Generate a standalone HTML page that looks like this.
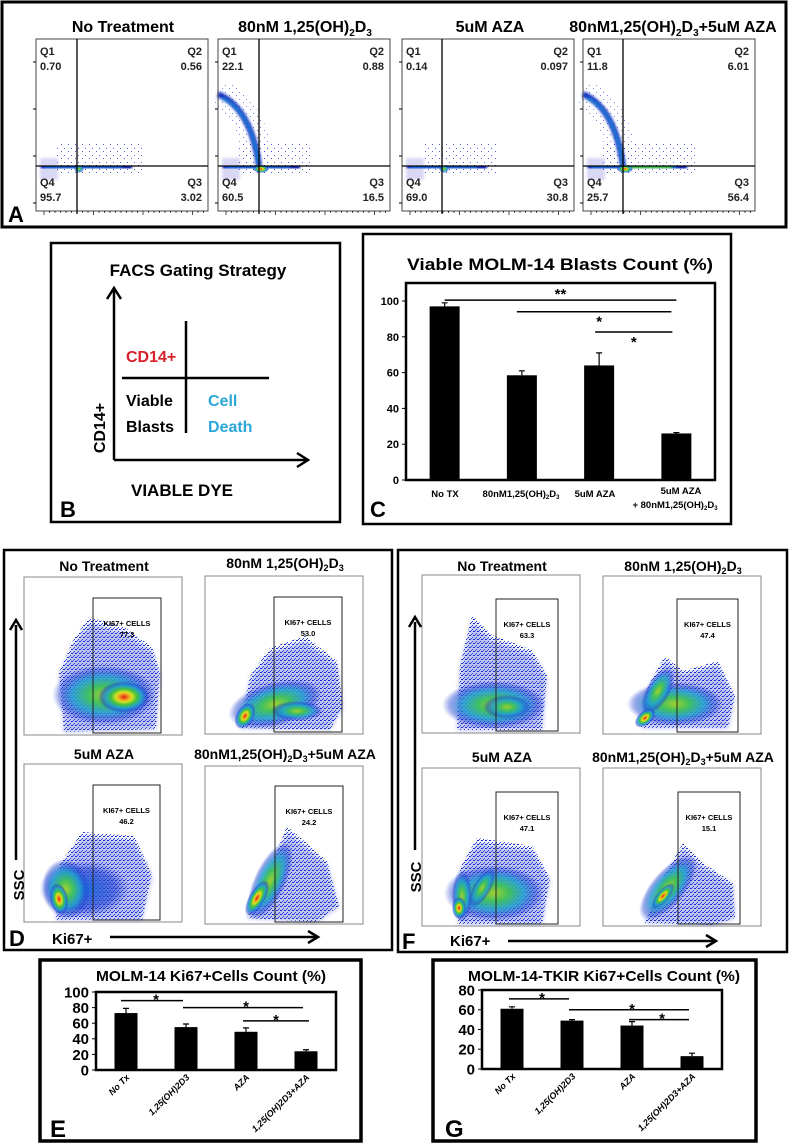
<!DOCTYPE html>
<html><head><meta charset="utf-8"><style>
html,body{margin:0;padding:0;background:#fff;}
svg{display:block;font-family:"Liberation Sans",Arial,sans-serif;}
.b{font-weight:bold;}
</style></head><body>
<svg id="fig" width="790" height="1144" viewBox="0 0 790 1144" xmlns="http://www.w3.org/2000/svg">
<defs>
<filter id="bl" x="-20%" y="-20%" width="140%" height="140%"><feGaussianBlur stdDeviation="1.2"/></filter>
<filter id="bl2" x="-30%" y="-30%" width="160%" height="160%"><feGaussianBlur stdDeviation="2.5"/></filter>
<pattern id="dots" width="4" height="4" patternUnits="userSpaceOnUse"><rect x="0" y="0" width="1" height="1" fill="#1a2bd0"/><rect x="2" y="2" width="1" height="1" fill="#2240e0"/><rect x="3" y="0" width="1" height="1" fill="#1020b0"/><rect x="1" y="3" width="1" height="1" fill="#3050e0"/></pattern>
<pattern id="dots2" width="7" height="7" patternUnits="userSpaceOnUse"><rect x="1" y="1" width="1" height="1" fill="#2233cc"/><rect x="5" y="4" width="1" height="1" fill="#2233cc"/></pattern>
<radialGradient id="heat"><stop offset="0" stop-color="#e02010"/><stop offset="0.15" stop-color="#f08020"/><stop offset="0.3" stop-color="#e0e020"/><stop offset="0.5" stop-color="#40c040"/><stop offset="0.7" stop-color="#20a0d0" stop-opacity="0.9"/><stop offset="0.88" stop-color="#2040d0" stop-opacity="0.5"/><stop offset="1" stop-color="#2040d0" stop-opacity="0"/></radialGradient>
<radialGradient id="heatG"><stop offset="0" stop-color="#a0d030"/><stop offset="0.3" stop-color="#40c060"/><stop offset="0.6" stop-color="#20a0d0" stop-opacity="0.85"/><stop offset="0.85" stop-color="#2040d0" stop-opacity="0.45"/><stop offset="1" stop-color="#2040d0" stop-opacity="0"/></radialGradient>
<radialGradient id="heatB"><stop offset="0" stop-color="#2070e0"/><stop offset="0.7" stop-color="#2040d0" stop-opacity="0.6"/><stop offset="1" stop-color="#2040d0" stop-opacity="0"/></radialGradient>
</defs>

<!-- Panel A -->
<g>
<rect x="2" y="2" width="784" height="225" fill="none" stroke="#000" stroke-width="3"/>
<text x="123" y="32" text-anchor="middle" class="b" font-size="16">No Treatment</text>
<text x="305" y="32" text-anchor="middle" class="b" font-size="16">80nM 1,25(OH)<tspan font-size="10" dy="4">2</tspan><tspan dy="-4">D</tspan><tspan font-size="10" dy="4">3</tspan></text>
<text x="490" y="32" text-anchor="middle" class="b" font-size="16">5uM AZA</text>
<text x="673" y="32" text-anchor="middle" class="b" font-size="16">80nM1,25(OH)<tspan font-size="10" dy="4">2</tspan><tspan dy="-4">D</tspan><tspan font-size="10" dy="4">3</tspan><tspan dy="-4">+5uM AZA</tspan></text>
<g id="aplots"></g>
<text x="8" y="222" class="b" font-size="22">A</text>
</g>

<!-- Panel B -->
<g>
<rect x="51" y="243" width="289" height="279" fill="none" stroke="#000" stroke-width="2.5"/>
<text x="198" y="276" text-anchor="middle" class="b" font-size="17">FACS Gating Strategy</text>
<line x1="114" y1="460" x2="114" y2="290" stroke="#000" stroke-width="2.5"/>
<polyline points="107,299 114,288 121,299" fill="none" stroke="#000" stroke-width="2.5"/>
<line x1="114" y1="460" x2="306" y2="460" stroke="#000" stroke-width="2.5"/>
<polyline points="297,453 308,460 297,467" fill="none" stroke="#000" stroke-width="2.5"/>
<line x1="186" y1="321" x2="186" y2="433" stroke="#000" stroke-width="2.5"/>
<line x1="122" y1="378" x2="269" y2="378" stroke="#000" stroke-width="2.5"/>
<text x="126" y="362" class="b" font-size="16" fill="#d8202a">CD14+</text>
<text x="126" y="406" class="b" font-size="16">Viable</text>
<text x="126" y="432" class="b" font-size="16">Blasts</text>
<text x="208" y="406" class="b" font-size="16" fill="#2aa7d8">Cell</text>
<text x="208" y="432" class="b" font-size="16" fill="#2aa7d8">Death</text>
<text transform="translate(105,428) rotate(-90)" text-anchor="middle" class="b" font-size="16">CD14+</text>
<text x="182" y="496" text-anchor="middle" class="b" font-size="17">VIABLE DYE</text>
<text x="60" y="517" class="b" font-size="22">B</text>
</g>

<!-- Panel C -->
<g>
<rect x="363" y="234" width="368" height="290" fill="none" stroke="#000" stroke-width="2.5"/>
<text x="560" y="270" text-anchor="middle" class="b" font-size="17" textLength="306" lengthAdjust="spacingAndGlyphs">Viable MOLM-14 Blasts Count  (%)</text>
<g id="chartC"></g>
<text x="445" y="497" text-anchor="middle" class="b" font-size="9.5">No TX</text>
<text x="521" y="497" text-anchor="middle" class="b" font-size="9.5">80nM1,25(OH)<tspan font-size="6" dy="2">2</tspan><tspan dy="-2">D</tspan><tspan font-size="6" dy="2">3</tspan></text>
<text x="595" y="497" text-anchor="middle" class="b" font-size="9.5">5uM AZA</text>
<text x="681" y="494" text-anchor="middle" class="b" font-size="9.5">5uM AZA</text>
<text x="675" y="508" text-anchor="middle" class="b" font-size="9.5">+ 80nM1,25(OH)<tspan font-size="6" dy="2">2</tspan><tspan dy="-2">D</tspan><tspan font-size="6" dy="2">3</tspan></text>
<text x="370" y="517" class="b" font-size="22">C</text>
</g>

<!-- Panel D -->
<g>
<rect x="4" y="550" width="388" height="400" fill="none" stroke="#000" stroke-width="2.5"/>
<g id="dplots"></g>
<line x1="16" y1="860" x2="16" y2="625" stroke="#000" stroke-width="2.5"/>
<polyline points="10,630 16,620 22,630" fill="none" stroke="#000" stroke-width="2.5"/>
<text transform="translate(24,885) rotate(-90)" text-anchor="middle" class="b" font-size="15">SSC</text>
<text x="52" y="944" class="b" font-size="15">Ki67+</text>
<line x1="110" y1="937" x2="316" y2="937" stroke="#000" stroke-width="2.5"/>
<polyline points="308,931 318,937 308,943" fill="none" stroke="#000" stroke-width="2.5"/>
<text x="9" y="946" class="b" font-size="22">D</text>
</g>

<!-- Panel F -->
<g>
<rect x="398" y="550" width="389" height="402" fill="none" stroke="#000" stroke-width="2.5"/>
<g id="fplots"></g>
<line x1="415" y1="850" x2="415" y2="622" stroke="#000" stroke-width="2.5"/>
<polyline points="409,627 415,617 421,627" fill="none" stroke="#000" stroke-width="2.5"/>
<text transform="translate(421,877) rotate(-90)" text-anchor="middle" class="b" font-size="15">SSC</text>
<text x="450" y="946" class="b" font-size="15">Ki67+</text>
<line x1="508" y1="941" x2="714" y2="941" stroke="#000" stroke-width="2.5"/>
<polyline points="706,935 716,941 706,947" fill="none" stroke="#000" stroke-width="2.5"/>
<text x="402" y="949" class="b" font-size="22">F</text>
</g>

<!-- Panel E -->
<g>
<rect x="40" y="960" width="321" height="181" fill="none" stroke="#000" stroke-width="3.5"/>
<text x="211" y="981" text-anchor="middle" class="b" font-size="15" textLength="230" lengthAdjust="spacingAndGlyphs">MOLM-14 Ki67+Cells Count (%)</text>
<g id="chartE"></g>
<text x="50" y="1137" class="b" font-size="24">E</text>
</g>

<!-- Panel G -->
<g>
<rect x="433" y="960" width="323" height="181" fill="none" stroke="#000" stroke-width="3.5"/>
<text x="604" y="981" text-anchor="middle" class="b" font-size="15" textLength="272" lengthAdjust="spacingAndGlyphs">MOLM-14-TKIR Ki67+Cells Count (%)</text>
<g id="chartG"></g>
<text x="445" y="1137" class="b" font-size="24">G</text>
</g>
</svg>

<script>
// ---------- Bar chart data ----------
const cCategories = ["No TX", "80nM1,25(OH)2D3", "5uM AZA", "5uM AZA + 80nM1,25(OH)2D3"];
const cValues = [97, 58.5, 64, 26];
const cErrors = [2, 2.5, 7, 0.5];
const cTicks = [0, 20, 40, 60, 80, 100];

const eCategories = ["No Tx", "1,25(OH)2D3", "AZA", "1,25(OH)2D3+AZA"];
const eValues = [73, 55, 49, 24];
const eErrors = [6, 4, 5, 2];
const eTicks = [0, 20, 40, 60, 80, 100];

const gCategories = ["No Tx", "1,25(OH)2D3", "AZA", "1,25(OH)2D3+AZA"];
const gValues = [61, 49, 44, 13];
const gErrors = [2, 1, 4, 3];
const gTicks = [0, 20, 40, 60, 80];

const NS = "http://www.w3.org/2000/svg";
function mk(tag, attrs, parent) {
  const el = document.createElementNS(NS, tag);
  for (const k in attrs) el.setAttribute(k, attrs[k]);
  if (parent) parent.appendChild(el);
  return el;
}

function barChart(opt) {
  const g = document.getElementById(opt.id);
  const n = opt.values.length;
  const step = (opt.x1 - opt.x0) / n;
  const xs = i => opt.x0 + step * (i + 0.5);
  const ys = v => opt.y0 - (v - opt.tmin) / (opt.tmax - opt.tmin) * (opt.y0 - opt.yTop);
  const fr = mk("rect", {x: opt.x0, y: opt.frameTop, width: opt.x1 - opt.x0, height: opt.y0 - opt.frameTop, fill: "none", stroke: "#000", "stroke-width": opt.fw}, g);
  
  
  opt.ticks.forEach(t => {
    const y = ys(t);
    mk("line", {x1: opt.x0 - 4, x2: opt.x0, y1: y, y2: y, stroke: "#000", "stroke-width": 1}, g);
    const tx = mk("text", {x: opt.x0 - 7, y: y + opt.tfs * 0.36, "text-anchor": "end", "font-size": opt.tfs, "font-weight": "bold"}, g);
    tx.textContent = t;
    
    
  });
  opt.values.forEach((v, i) => {
    const cx = xs(i);
    const bar = mk("rect", {x: cx - opt.bw / 2, y: ys(v), width: opt.bw, height: opt.y0 - ys(v), fill: "#000"}, g);
    
    
    const ye = ys(v + opt.errors[i]);
    const eb = mk("path", {d: `M${cx},${ys(v)}V${ye}M${cx - 3},${ye}H${cx + 3}`, stroke: "#000", "stroke-width": 1.2, fill: "none"}, g);
    
    
    if (opt.rot) {
      const t = mk("text", {transform: `translate(${cx + 4},${opt.y0 + 8}) rotate(-45)`, "text-anchor": "end", "font-size": 9, "font-weight": "bold", "font-style": "italic"}, g);
      t.textContent = opt.cats[i];
      
      
    }
  });
  opt.sig.forEach(s => {
    const y = ys(s[2]);
    const l = mk("line", {x1: xs(s[0]) + s[4], x2: xs(s[1]) + s[5], y1: y, y2: y, stroke: "#000", "stroke-width": 1.5}, g);
    
    
    const st = mk("text", {x: (xs(s[0]) + xs(s[1])) / 2 + s[6], y: y + s[7], "text-anchor": "middle", "font-size": 15, "font-weight": "bold"}, g);
    st.textContent = s[3];
    
    
  });
}

barChart({id: "chartC", prefix: "c", values: cValues, errors: cErrors, ticks: cTicks, cats: cCategories,
  x0: 406, x1: 715, y0: 480, yTop: 301, tmin: 0, tmax: 100, frameTop: 283, bw: 30, tfs: 11, fw: 2.5, rot: false,
  sig: [[0, 3, 100.5, "**", 0, 0, 0, -1], [1, 3, 94, "*", -5, -5, 0, 15], [2, 3, 82.7, "*", -4, -4, -4, 15]]});
barChart({id: "chartE", prefix: "e", values: eValues, errors: eErrors, ticks: eTicks, cats: eCategories,
  x0: 96, x1: 336, y0: 1070, yTop: 992, tmin: 0, tmax: 100, frameTop: 992, bw: 23, tfs: 15, fw: 2.5, rot: true,
  sig: [[0, 1, 89, "*", -5, -3, 0, 4], [1, 3, 80, "*", -3, -3, 0, 4], [2, 3, 63, "*", -3, 3, 0, 4]]});
barChart({id: "chartG", prefix: "g", values: gValues, errors: gErrors, ticks: gTicks, cats: gCategories,
  x0: 482, x1: 722, y0: 1069, yTop: 990, tmin: 0, tmax: 80, frameTop: 990, bw: 23, tfs: 15, fw: 2.5, rot: true,
  sig: [[0, 1, 71, "*", -3, -3, 0, 4], [1, 3, 60, "*", -3, -3, 0, 4], [2, 3, 50, "*", -3, -3, 0, 4]]});

// ---------- Panel A flow plots (decorative) ----------
const aPanels = [
  {x: 36, vx: 77, q: ["0.70", "0.56", "95.7", "3.02"], arc: 0, band: 132, hot: 0},
  {x: 218, vx: 259, q: ["22.1", "0.88", "60.5", "16.5"], arc: 1, band: 300, hot: 1},
  {x: 402, vx: 442, q: ["0.14", "0.097", "69.0", "30.8"], arc: 0, band: 487, hot: 0},
  {x: 583, vx: 623, q: ["11.8", "6.01", "25.7", "56.4"], arc: 1, band: 687, hot: 2}
];
const ag = document.getElementById("aplots");
aPanels.forEach((p, i) => {
  const g = mk("g", {}, ag);
  
  
  const hy = 166, top = 39, bot = 211, w = 172;
  mk("rect", {x: p.x + 4, y: 158, width: 18, height: 22, fill: "#c8c8f0", opacity: 0.7, filter: "url(#bl)"}, g);
  mk("rect", {x: p.x + 20, y: hy - 22, width: (p.band - p.x) - 10, height: 30, fill: "url(#dots2)", opacity: 0.8}, g);
  if (p.arc) {
    mk("path", {d: `M${p.x},${94} Q${p.vx - 5},${110} ${p.vx},${hy}`, stroke: "url(#dots2)", fill: "none", "stroke-width": 30, opacity: .6}, g);
    mk("path", {d: `M${p.x},${94} Q${p.vx - 8},${108} ${p.vx},${hy}`, stroke: "#1830c0", fill: "none", "stroke-width": 6, filter: "url(#bl)"}, g);
    mk("path", {d: `M${p.x + 4},${98} Q${p.vx - 8},${110} ${p.vx},${hy}`, stroke: "#20a0e0", fill: "none", "stroke-width": 2, filter: "url(#bl)"}, g);
  }
  mk("path", {d: `M${p.x + 5},${hy + 2} L${p.band},${hy + 1}`, stroke: "#1a30c8", "stroke-width": p.hot == 2 ? 14 : 10, filter: "url(#bl)"}, g);
  mk("path", {d: `M${p.x + 8},${hy + 2} L${p.band - 10},${hy + 1}`, stroke: "#2070e0", "stroke-width": 4, filter: "url(#bl)"}, g);
  if (p.hot == 2) mk("path", {d: `M${p.vx},${hy + 2} L${p.band - 15},${hy + 1}`, stroke: "#50d040", "stroke-width": 4, filter: "url(#bl)"}, g);
  mk("ellipse", {cx: p.vx + 2, cy: hy + 3, rx: p.hot ? 8 : 5, ry: 4, fill: "url(#heat" + (p.hot ? "" : "G") + ")"}, g);
  mk("rect", {x: p.x, y: top, width: w, height: bot - top, fill: "none", stroke: "#444", "stroke-width": 1}, g);
  mk("line", {x1: p.vx, x2: p.vx, y1: top, y2: bot + 3, stroke: "#000", "stroke-width": 1.3}, g);
  mk("line", {x1: p.x, x2: p.x + w, y1: hy, y2: hy, stroke: "#000", "stroke-width": 1.3}, g);
  for (let k = 0; k < 4; k++) mk("line", {x1: p.x - 3, x2: p.x, y1: 62 + k * 47, y2: 62 + k * 47, stroke: "#000"}, g);
  for (let k = 0; k < 30; k++) mk("line", {x1: p.x + 8 + k * 5.5, x2: p.x + 8 + k * 5.5, y1: bot, y2: bot + (k % 9 == 0 ? 4 : 2), stroke: "#000", "stroke-width": .7}, g);
  const lab = [["Q1", p.x + 4, 55, "start"], [p.q[0], p.x + 4, 70, "start"], ["Q2", p.x + w - 6, 55, "end"], [p.q[1], p.x + w - 6, 70, "end"],
               ["Q4", p.x + 4, 186, "start"], [p.q[2], p.x + 4, 201, "start"], ["Q3", p.x + w - 6, 186, "end"], [p.q[3], p.x + w - 6, 201, "end"]];
  lab.forEach(l => {
    const t = mk("text", {x: l[1], y: l[2], "text-anchor": l[3], "font-size": 11, "font-weight": "bold", fill: "#222"}, g);
    t.textContent = l[0];
    
    
  });
});

// ---------- Panels D / F flow plots (decorative) ----------
const flowSpecs = [
  {id: "dplots", pre: "d", plots: [
    {x: 24, y: 577, gx: 93, gx2: 161, gy: 598, title: "No Treatment", ty: 566, val: "77.3",
     cloud: "40,155 35,95 50,62 65,40 100,50 128,70 136,95 132,152", heat: [[80, 118, 52, 30, 0, "heatG"], [100, 120, 26, 16, 0, "heat"]]},
    {x: 205, y: 576, gx: 274, gx2: 342, gy: 597, title: "VITD", ty: 563, val: "53.0",
     cloud: "35,152 45,100 65,72 100,60 132,85 138,130 125,154", heat: [[70, 128, 48, 22, -15, "heatG"], [92, 135, 26, 10, 0, "heatG"], [40, 140, 14, 9, -60, "heat"]]},
    {x: 24, y: 764, gx: 93, gx2: 160, gy: 785, title: "5uM AZA", ty: 754, val: "46.2",
     cloud: "32,156 36,100 58,68 110,72 128,110 118,156", heat: [[60, 125, 45, 28, 0, "heatB"], [42, 125, 24, 30, -10, "heatG"], [35, 135, 9, 16, -10, "heat"]]},
    {x: 205, y: 766, gx: 275, gx2: 343, gy: 786, title: "COMBO", ty: 754, val: "24.2",
     cloud: "42,152 62,110 82,60 122,95 134,140 112,156", heat: [[65, 115, 16, 42, 25, "heatG"], [52, 132, 8, 20, 30, "heat"]]}]},
  {id: "fplots", pre: "f", plots: [
    {x: 422, y: 575, gx: 496, gx2: 558, gy: 599, title: "No Treatment", ty: 566, val: "63.3",
     cloud: "35,155 38,90 50,40 70,60 110,75 125,100 120,155", heat: [[72, 130, 52, 24, 0, "heatG"], [85, 132, 24, 12, 0, "heatG"]]},
    {x: 603, y: 576, gx: 677, gx2: 738, gy: 599, title: "VITD", ty: 566, val: "47.4",
     cloud: "38,152 45,110 62,80 80,95 115,85 132,120 125,152", heat: [[72, 128, 48, 22, 0, "heatG"], [55, 115, 12, 26, 30, "heatG"], [42, 142, 12, 7, -40, "heat"]]},
    {x: 422, y: 768, gx: 496, gx2: 558, gy: 792, title: "5uM AZA", ty: 757, val: "47.1",
     cloud: "36,156 38,100 55,70 110,78 128,110 120,156", heat: [[72, 125, 50, 28, 0, "heatG"], [40, 128, 10, 26, 0, "heatG"], [60, 120, 9, 22, 30, "heatG"], [37, 140, 7, 11, 0, "heat"]]},
    {x: 603, y: 768, gx: 678, gx2: 740, gy: 792, title: "COMBO", ty: 757, val: "15.1",
     cloud: "42,155 60,110 80,75 100,95 130,115 132,150 110,157", heat: [[65, 120, 17, 40, 40, "heatG"], [60, 128, 6, 16, 40, "heat"]]}]}
];
flowSpecs.forEach(fs => {
  const root = document.getElementById(fs.id);
  fs.plots.forEach((p, i) => {
    const g = mk("g", {}, root);
    
    
    const inner = mk("g", {transform: `translate(${p.x},${p.y})`}, g);
    mk("polygon", {points: p.cloud, fill: "url(#dots)"}, inner);
    mk("polygon", {points: p.cloud, fill: "#2a3ed8", opacity: 0.3, filter: "url(#bl2)", transform: "translate(0,8) scale(1,0.95)"}, inner);
    p.heat.forEach(h => {
      mk("ellipse", {cx: h[0], cy: h[1], rx: h[2], ry: h[3], transform: `rotate(${h[4]},${h[0]},${h[1]})`, fill: `url(#${h[5]})`}, inner);
    });
    mk("rect", {x: p.x, y: p.y, width: 158, height: 158, fill: "none", stroke: "#888", "stroke-width": 1}, g);
    mk("rect", {x: p.gx, y: p.gy, width: p.gx2 - p.gx, height: p.y + 156 - p.gy, fill: "none", stroke: "#222", "stroke-width": 1}, g);
    const cx = (p.gx + p.gx2) / 2;
    const t1 = mk("text", {x: cx, y: p.gy + 28, "text-anchor": "middle", "font-size": 7.5, "font-weight": "bold"}, g);
    t1.textContent = "KI67+ CELLS";
    
    
    const t2 = mk("text", {x: cx, y: p.gy + 39, "text-anchor": "middle", "font-size": 7.5, "font-weight": "bold"}, g);
    t2.textContent = p.val;
    
    
    const tt = mk("text", {x: p.x + 80, y: p.ty + 5, "text-anchor": "middle", "font-size": 14, "font-weight": "bold"}, g);
    
    
    if (p.title === "VITD") {
      tt.innerHTML = '80nM 1,25(OH)<tspan font-size="9" dy="3">2</tspan><tspan dy="-3">D</tspan><tspan font-size="9" dy="3">3</tspan>';
    } else if (p.title === "COMBO") {
      tt.innerHTML = '80nM1,25(OH)<tspan font-size="9" dy="3">2</tspan><tspan dy="-3">D</tspan><tspan font-size="9" dy="3">3</tspan><tspan dy="-3">+5uM AZA</tspan>';
    } else tt.textContent = p.title;
  });
});
</script>
</body></html>
